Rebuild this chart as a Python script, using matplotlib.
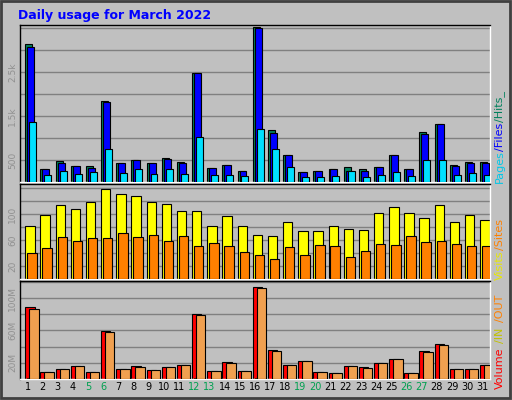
import matplotlib.pyplot as plt
import numpy as np
from matplotlib.patches import Rectangle

days = list(range(1, 32))
weekend = [5, 6, 12, 13, 19, 20, 26, 27]

hits = [3145, 285, 470, 354, 354, 1853, 423, 492, 423, 538, 446, 2476, 308, 377, 261, 3514,
        1184, 607, 238, 261, 285, 331, 285, 331, 607, 285, 1138, 1323, 377, 446, 446]
files = [3076, 285, 423, 354, 308, 1830, 423, 492, 423, 515, 423, 2476, 308, 377, 261, 3491,
         1115, 607, 238, 261, 285, 261, 261, 331, 607, 285, 1092, 1323, 354, 423, 423]
pages = [1369, 170, 261, 192, 238, 746, 215, 285, 192, 285, 192, 1023, 170, 170, 146, 1207,
         746, 331, 123, 123, 146, 261, 123, 170, 238, 146, 492, 492, 170, 215, 170]
visits = [82, 99, 114, 107, 119, 138, 130, 127, 118, 116, 105, 104, 82, 97, 82, 68,
          66, 87, 74, 74, 82, 77, 76, 101, 110, 102, 93, 113, 88, 99, 91]
sites = [40, 48, 65, 59, 63, 63, 70, 65, 68, 59, 66, 51, 56, 51, 42, 37,
         31, 49, 37, 53, 51, 34, 43, 54, 53, 66, 57, 59, 54, 51, 51]
volume = [89, 8.7, 12.4, 16.2, 8.7, 59, 12.4, 16.2, 11.2, 15, 17.5, 80.3, 9.9, 21.2, 9.9, 114.3,
          36.3, 17.5, 22.4, 8.7, 7.4, 16.2, 15, 20, 25, 7.4, 35, 42.6, 12.4, 12.4, 17.5]
vol_out = [86.7, 8.7, 12.4, 16.2, 8.7, 57.7, 12.4, 15, 11.2, 15, 17.5, 79, 9.9, 20, 9.9, 113,
           35, 17.5, 22.4, 8.7, 7.4, 16.2, 13.7, 20, 25, 7.4, 33.8, 41.4, 12.4, 12.4, 17.5]
vol_in = [1.2 if v > 70 else 0 for v in volume]

bg = '#c0c0c0'
x = np.array(days)

fig = plt.figure(figsize=(5.12, 4.0), dpi=100)
fig.patch.set_facecolor(bg)
fig.patches.append(Rectangle((0.002, 0.004), 0.994, 0.994, transform=fig.transFigure,
                             fill=False, ec='#404040', lw=2))
fig.text(0.035, 0.962, 'Daily usage for March 2022', color='#0000ff', fontsize=9,
         fontweight='bold', va='center')


def setup(ax, ymax, step, labeled, fmt):
    ax.set_facecolor(bg)
    ax.set_xlim(0.5, 31.5)
    ax.set_ylim(0, ymax)
    for y in np.arange(step, ymax, step):
        ax.axhline(y, color='#808080', lw=1, zorder=0)
    ax.set_yticks(labeled)
    ax.set_yticklabels([fmt(v) for v in labeled], rotation=90, va='center',
                       fontsize=6.5, color='#909090')
    ax.tick_params(axis='y', length=0, pad=2)
    ax.tick_params(axis='x', length=0)
    ax.set_xticks([])
    for s in ax.spines.values():
        s.set_color('white')
        s.set_linewidth(1)
    ax.spines['top'].set_color('black')
    ax.spines['left'].set_color('black')


w = 0.46
ax1 = fig.add_axes([0.039, 0.545, 0.918, 0.3925])
setup(ax1, 3570, 500, [500, 1500, 2500], lambda v: '%g' % v if v < 1000 else '%gk' % (v / 1000))
ax1.bar(x - 0.15, hits, w, align='edge', color='#00805c', ec='black', lw=0.8, zorder=2)
ax1.bar(x - 0.02, files, w, align='edge', color='#0000ff', ec='black', lw=0.8, zorder=3)
ax1.bar(x + 0.11, pages, w, align='edge', color='#00e0ff', ec='black', lw=0.8, zorder=4)

ax2 = fig.add_axes([0.039, 0.3025, 0.918, 0.2375])
setup(ax2, 146, 20, [20, 60, 100], lambda v: '%d' % v)
ax2.bar(x - 0.15, visits, 0.62, align='edge', color='#ffff00', ec='black', lw=0.8, zorder=2)
ax2.bar(x - 0.02, sites, 0.62, align='edge', color='#ff8000', ec='black', lw=0.8, zorder=3)

ax3 = fig.add_axes([0.039, 0.053, 0.918, 0.244])
setup(ax3, 121, 20, [20, 60, 100], lambda v: '%dM' % v)
ax3.bar(x - 0.15, volume, 0.62, align='edge', color='#ff0000', ec='black', lw=0.8, zorder=2)
ax3.bar(x - 0.02, vol_in, 0.13, align='edge', color='#ffff00', ec='black', lw=0.5, zorder=3)
ax3.bar(x + 0.11, vol_out, 0.62, align='edge', color='#f0a050', ec='black', lw=0.8, zorder=4)
for d in days:
    ax3.text(d, -4, str(d), ha='center', va='top', fontsize=7,
             color='#00a050' if d in weekend else 'black')


def side_label(parts):
    for txt, col, yc in parts:
        fig.text(0.976, 1 - yc / 400, txt, color=col, rotation=90, ha='center',
                 va='center', fontsize=8)


side_label([('Pages', '#00c8e8', 167), ('/Files', '#0000ff', 137), ('/Hits_', '#00805c', 106)])
side_label([('Visits', '#e8e800', 265), ('/Sites', '#ff8000', 234)])
side_label([('Volume', '#ff0000', 368), ('/IN', '#c0c000', 335), ('/OUT', '#ff8000', 308)])

fig.savefig('out.png', dpi=100, facecolor=bg)
